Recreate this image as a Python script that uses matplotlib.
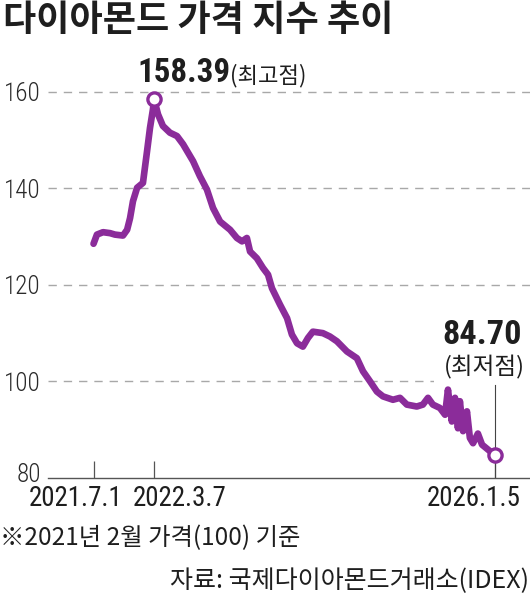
import matplotlib
matplotlib.use("Agg")
import matplotlib.pyplot as plt
import matplotlib.transforms as mtransforms
from matplotlib import font_manager as fm
import pandas as pd

# ---------------- data ----------------
dates = [
    "2021-07-01", "2021-07-15", "2021-08-09", "2021-09-07", "2021-09-27", "2021-10-30",
    "2021-11-16", "2021-11-28", "2021-12-10", "2021-12-27", "2022-01-20", "2022-02-06",
    "2022-02-18", "2022-03-02", "2022-03-07", "2022-03-23", "2022-04-12", "2022-05-11",
    "2022-06-09", "2022-07-04", "2022-08-14", "2022-09-11", "2022-10-10", "2022-11-04",
    "2022-12-03", "2023-01-13", "2023-02-10", "2023-03-03", "2023-03-23", "2023-04-05",
    "2023-05-03", "2023-05-28", "2023-06-18", "2023-07-04", "2023-08-06", "2023-09-04",
    "2023-09-24", "2023-10-15", "2023-11-08", "2023-11-29", "2023-12-19", "2024-01-29",
    "2024-02-27", "2024-03-27", "2024-05-07", "2024-06-17", "2024-07-12", "2024-08-10",
    "2024-09-07", "2024-10-02", "2024-11-12", "2024-12-11", "2025-01-08", "2025-02-18",
    "2025-03-15", "2025-04-05", "2025-04-25", "2025-05-24", "2025-06-14", "2025-06-26",
    "2025-07-12", "2025-07-25", "2025-08-06", "2025-08-14", "2025-08-27", "2025-09-12",
    "2025-09-24", "2025-10-07", "2025-10-27", "2025-11-13", "2026-01-05",
]
values = [
    128.5, 130.4, 130.9, 130.7, 130.4, 130.2,
    131.4, 133.8, 137.3, 140.1, 141.1, 147.7,
    152.5, 156.3, 158.39, 155.3, 152.9, 151.5,
    150.8, 149.1, 145.6, 142.5, 139.7, 135.9,
    133.1, 131.4, 129.7, 129.0, 129.7, 126.9,
    125.5, 123.5, 122.1, 119.3, 115.9, 113.1,
    109.7, 107.9, 107.2, 109.0, 110.3, 110.0,
    109.3, 108.3, 106.2, 104.8, 102.1, 100.0,
    97.9, 96.9, 96.2, 96.6, 95.2, 94.8,
    95.2, 96.6, 95.2, 94.5, 93.1, 98.3,
    91.7, 96.6, 90.3, 95.9, 89.7, 93.8,
    88.3, 87.2, 89.2, 86.9, 84.70,
]
peak_date, peak_value = "2022-03-07", 158.39
low_date, low_value = "2026-01-05", 84.70
xtick_dates = ["2021-07-01", "2022-03-07", "2026-01-05"]
xtick_labels = ["2021.7.1", "2022.3.7", "2026.1.5"]
yticks = [80, 100, 120, 140, 160]
title = "다이아몬드 가격 지수 추이"
note = "※2021년 2월 가격(100) 기준"
source = "자료: 국제다이아몬드거래소(IDEX)"

# ---------------- fonts ----------------
names = {f.name for f in fm.fontManager.ttflist}
KR = "Noto Sans CJK KR"
if "Liberation Sans Narrow" in names:
    NUM, sc = "Liberation Sans Narrow", 1.0
elif "Roboto Condensed" in names:
    NUM, sc = "Roboto Condensed", 0.95
else:
    NUM, sc = "Liberation Sans", 0.85
plt.rcParams["font.family"] = [KR, "DejaVu Sans"]

PURPLE = "#8b2c9a"
TXT = "#1e1e1e"
W, H = 530, 595
fig = plt.figure(figsize=(W / 100, H / 100), dpi=100)
px = 72 / fig.dpi  # points per pixel

ymin, ymax = 80, 165
ax = fig.add_axes([48 / W, 1 - 478 / H, 1 - 48 / W, (478 - 67.5) / H])
ax.set_ylim(ymin, ymax)
ax.set_xlim(pd.Timestamp("2020-12-26"), pd.Timestamp("2026-05-29"))

for s in ["top", "right", "left"]:
    ax.spines[s].set_visible(False)
ax.spines["bottom"].set_color("#555555")
ax.spines["bottom"].set_linewidth(1.0)

# grid
for v in yticks[1:]:
    ax.axhline(v, color="#a8a8a8", lw=1.0, ls=(0, (6, 5)), zorder=0)

# y tick labels
ax.set_yticks(yticks)
ax.set_yticklabels([str(v) for v in yticks], fontfamily=NUM, fontweight="light",
                   fontsize=19 * sc, color="#2a2a2a")
ax.tick_params(axis="y", length=0, pad=7 * px)
for lab in ax.get_yticklabels():
    if lab.get_text() == "80":
        lab.set_transform(lab.get_transform() + mtransforms.ScaledTranslation(0, 6 / fig.dpi, fig.dpi_scale_trans))

# x ticks (marks only) + labels
xt = pd.to_datetime(xtick_dates)
ax.set_xticks(xt)
ax.set_xticklabels([])
ax.tick_params(axis="x", direction="in", length=17 * px, width=0.9, color="#555555")
offsets = [-17.5, 25, -21]
for d, lab, dx in zip(xt, xtick_labels, offsets):
    ax.annotate(lab, xy=(d, 0), xycoords=("data", "axes fraction"),
                xytext=(dx * px, -7 * px), textcoords="offset points",
                ha="center", va="top", fontfamily=NUM, fontsize=20.5 * sc, color=TXT)

# data line
ax.plot(pd.to_datetime(dates), values, color=PURPLE, lw=4.8, solid_joinstyle="round",
        solid_capstyle="round", zorder=3)

# low leader line
ld = pd.Timestamp(low_date)
ax.plot([ld, ld], [ymin, 99.2], color="#444444", lw=0.8, zorder=2)

# markers
for d, v in [(peak_date, peak_value), (low_date, low_value)]:
    ax.plot([pd.Timestamp(d)], [v], marker="o", ms=9.5, mew=2.4, mec=PURPLE, mfc="white",
            zorder=5, clip_on=False)

# peak annotation
pdts = pd.Timestamp(peak_date)
ax.annotate(f"{peak_value:.2f}", xy=(pdts, peak_value), xytext=(76 * px, 17 * px),
            textcoords="offset points", ha="right", va="baseline", fontfamily=NUM,
            fontweight="bold", fontsize=25 * sc, color=TXT, annotation_clip=False)
ax.annotate("(최고점)", xy=(pdts, peak_value), xytext=(76 * px, 17 * px),
            textcoords="offset points", ha="left", va="baseline", fontsize=16,
            color=TXT, annotation_clip=False)

# low annotation
ax.annotate(f"{low_value:.2f}", xy=(ld, low_value), xytext=(-13 * px, 111 * px),
            textcoords="offset points", ha="center", va="baseline", fontfamily=NUM,
            fontweight="bold", fontsize=26 * sc, color=TXT, zorder=6)
ax.annotate("(최저점)", xy=(ld, low_value), xytext=(-11 * px, 81 * px),
            textcoords="offset points", ha="center", va="baseline", fontsize=17,
            color=TXT, zorder=1,
            bbox=dict(boxstyle="square,pad=0.4", fc="white", ec="none"))

# title and notes
fig.text(3 / W, 1 - 20 / H, title, fontsize=26, fontweight="bold", color=TXT,
         ha="left", va="center")
fig.text(0 / W, 1 - 538 / H, note, fontsize=17.5, color=TXT, ha="left", va="center")
fig.text(529 / W, 1 - 581 / H, source, fontsize=18, color=TXT, ha="right", va="center")

fig.savefig("out.png", dpi=100)
